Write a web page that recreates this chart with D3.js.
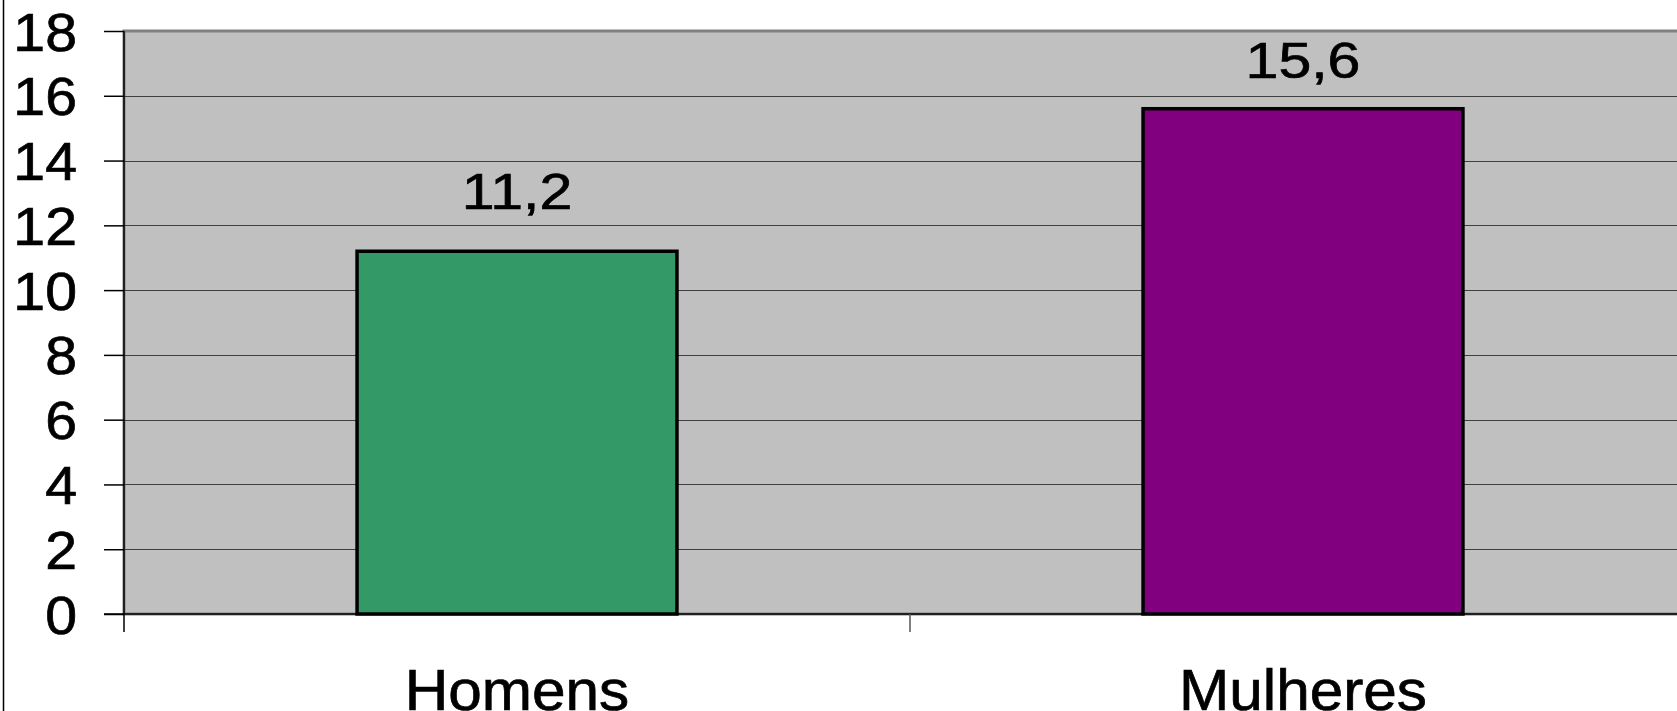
<!DOCTYPE html>
<html>
<head>
<meta charset="utf-8">
<script src="https://cdn.jsdelivr.net/npm/d3@7/dist/d3.min.js"></script>
<style>
  html, body { margin: 0; padding: 0; background: #ffffff; overflow: hidden; }
  svg { display: block; }
  text { font-family: "Liberation Sans", Arial, sans-serif; fill: #000; }
</style>
</head>
<body>
<svg id="chart" width="1677" height="711"></svg>
<script>
// ---- data ----
const categories = ["Homens", "Mulheres"];
const values = [11.2, 15.6];
const valueLabels = ["11,2", "15,6"];
const barColors = ["#339966", "#800080"];
const yTicks = [0, 2, 4, 6, 8, 10, 12, 14, 16, 18];
const yMax = 18;

// ---- layout ----
const W = 1677, H = 711;
const plot = { left: 124, top: 31, right: 1696, bottom: 614 };

const svg = d3.select("#chart");

// outer chart-area border (left edge visible)
svg.append("line")
  .attr("x1", 3.5).attr("x2", 3.5).attr("y1", 0).attr("y2", H)
  .attr("stroke", "#000").attr("stroke-width", 1.5);

const y = d3.scaleLinear().domain([0, yMax]).range([plot.bottom, plot.top]);
const x = d3.scaleBand().domain(categories)
  .range([plot.left, plot.right])
  .paddingInner(0.593).paddingOuter(0.2965);

// plot area background
svg.append("rect")
  .attr("x", plot.left).attr("y", plot.top)
  .attr("width", plot.right - plot.left).attr("height", plot.bottom - plot.top)
  .attr("fill", "#c0c0c0")
  .attr("stroke", "#808080").attr("stroke-width", 3);

// gridlines
svg.append("g")
  .selectAll("line")
  .data(yTicks.filter(t => t > 0 && t < yMax))
  .join("line")
  .attr("x1", plot.left).attr("x2", plot.right)
  .attr("y1", d => Math.round(y(d)) + 0.5).attr("y2", d => Math.round(y(d)) + 0.5)
  .attr("stroke", "#404040").attr("stroke-width", 1);

// bars
svg.append("g")
  .selectAll("rect")
  .data(categories)
  .join("rect")
  .attr("x", d => x(d))
  .attr("y", (d, i) => y(values[i]))
  .attr("width", x.bandwidth())
  .attr("height", (d, i) => y(0) - y(values[i]))
  .attr("fill", (d, i) => barColors[i])
  .attr("stroke", "#000").attr("stroke-width", 3.5);

// y axis
const yAxis = d3.axisLeft(y).tickValues(yTicks).tickSize(20).tickPadding(0)
  .tickFormat(d3.format("d"));
const gy = svg.append("g").attr("transform", `translate(${plot.left},0)`).call(yAxis);
gy.select(".domain").remove();
gy.selectAll(".tick line").attr("stroke", "#000").attr("stroke-width", 1.5);
gy.selectAll(".tick text")
  .attr("x", null).attr("dy", null)
  .attr("transform", "translate(-47,19) scale(1.06,1)")
  .attr("font-size", 54)
  .attr("stroke", "#000").attr("stroke-width", 0.7)
  .style("font-family", "'Liberation Sans', Arial, sans-serif");

// axis lines (black)
svg.append("line")
  .attr("x1", plot.left).attr("x2", plot.left)
  .attr("y1", plot.top).attr("y2", plot.bottom + 18)
  .attr("stroke", "#000").attr("stroke-width", 1.5);
svg.append("line")
  .attr("x1", plot.left - 20).attr("x2", plot.right)
  .attr("y1", plot.bottom).attr("y2", plot.bottom)
  .attr("stroke", "#000").attr("stroke-width", 1.5);

// category tick marks at band boundaries
const step = x.step();
const boundaries = categories.map(c => x(c) + x.bandwidth() / 2 + step / 2);
svg.append("g")
  .selectAll("line")
  .data(boundaries)
  .join("line")
  .attr("x1", d => d).attr("x2", d => d)
  .attr("y1", plot.bottom).attr("y2", plot.bottom + 18)
  .attr("stroke", "#555").attr("stroke-width", 1.5);

// value labels
svg.append("g")
  .selectAll("text")
  .data(categories)
  .join("text")
  .attr("transform", (d, i) =>
    `translate(${x(d) + x.bandwidth() / 2},${Math.max(y(values[i]) - 42, y(yMax) + 47)}) scale(1.18,1)`)
  .attr("text-anchor", "middle")
  .attr("font-size", 50)
  .attr("stroke", "#000").attr("stroke-width", 0.7)
  .text((d, i) => valueLabels[i]);

// category labels
svg.append("g")
  .selectAll("text")
  .data(categories)
  .join("text")
  .attr("transform", d => `translate(${x(d) + x.bandwidth() / 2},710) scale(1.04,1)`)
  .attr("text-anchor", "middle")
  .attr("font-size", 58)
  .attr("stroke", "#000").attr("stroke-width", 0.7)
  .text(d => d);
</script>
</body>
</html>
